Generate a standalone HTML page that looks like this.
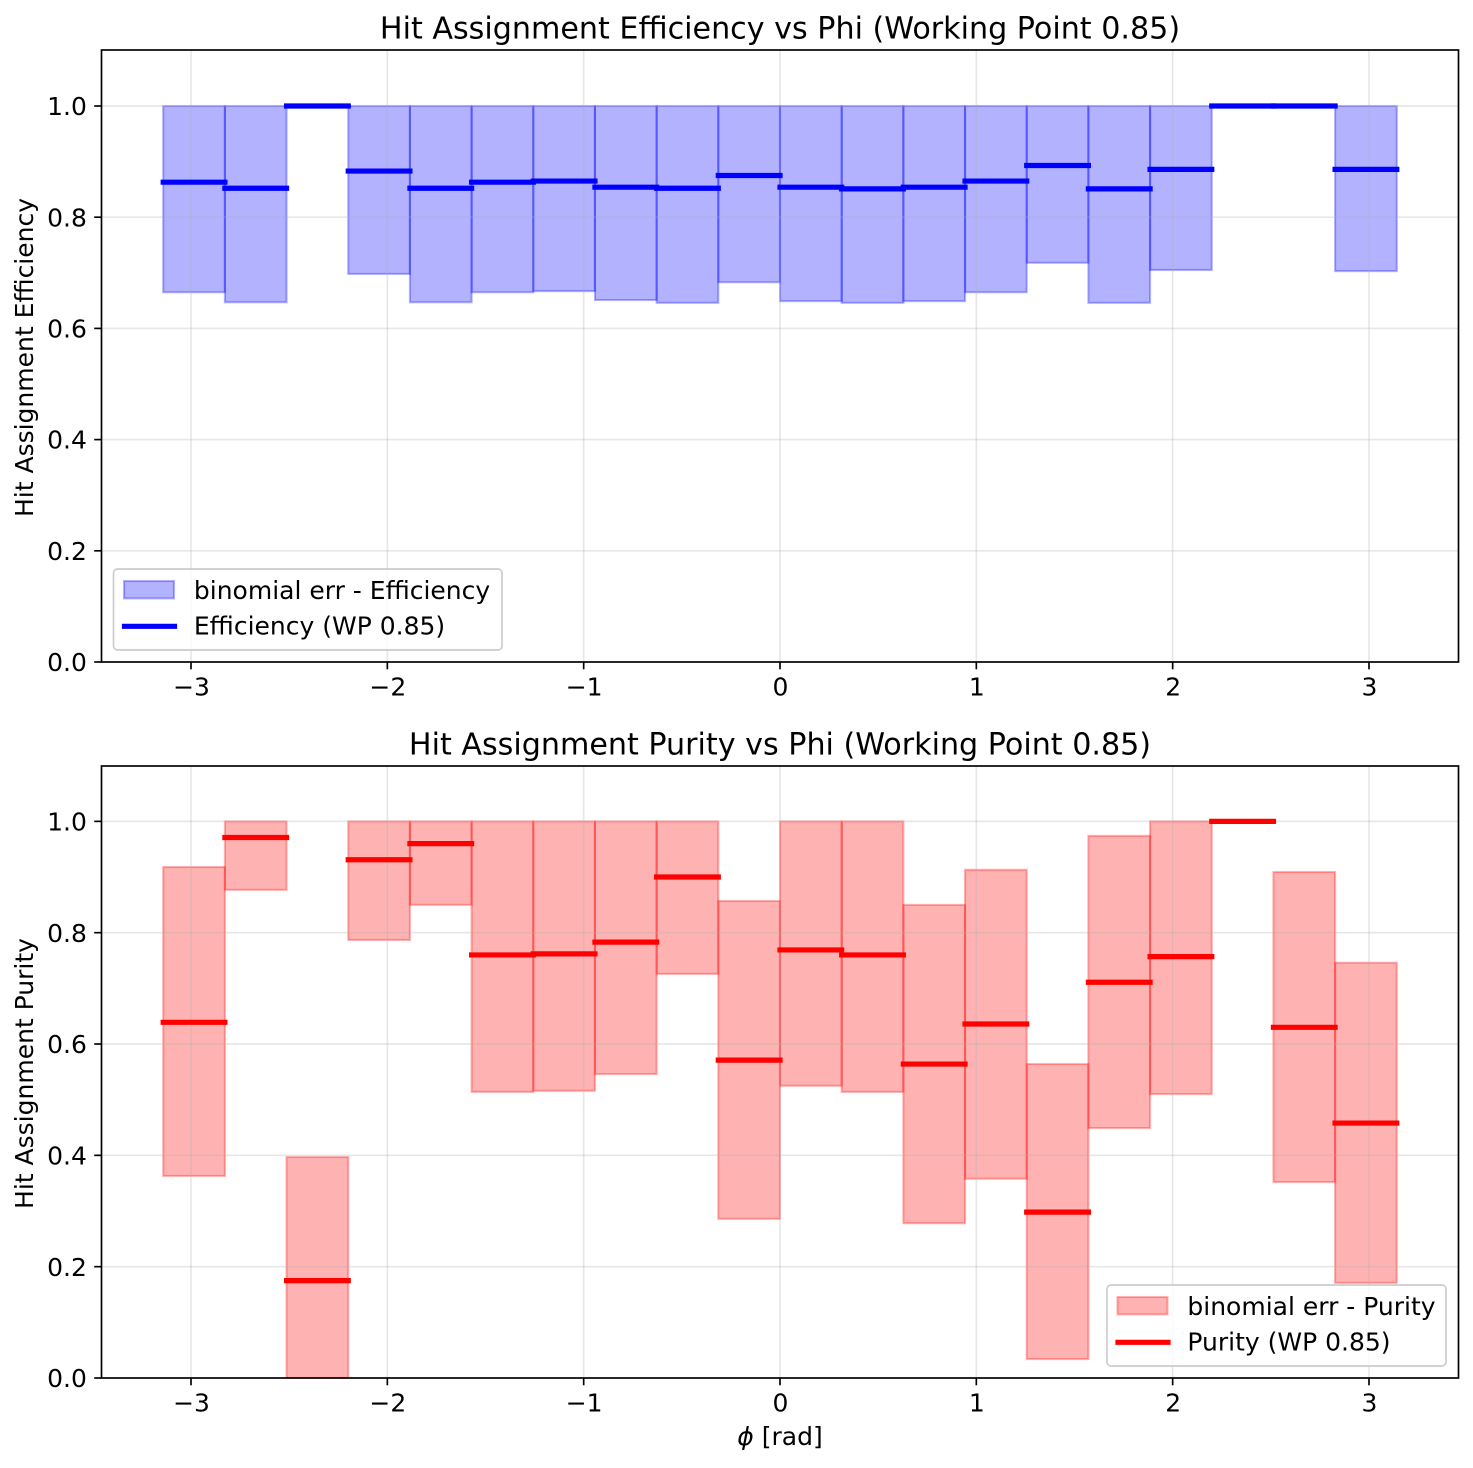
<!DOCTYPE html>
<html>
<head>
<meta charset="utf-8">
<title>Hit Assignment Efficiency and Purity vs Phi</title>
<style>
html,body{margin:0;padding:0;background:#fff;}
svg{display:block;}
text{font-family:"DejaVu Sans","Liberation Sans",sans-serif;fill:#000;}
</style>
</head>
<body>
<svg id="figure" xmlns="http://www.w3.org/2000/svg" width="1473" height="1468" viewBox="0 0 1473 1468"></svg>
<script>
const phiEdges = [-3.1416,-2.8274,-2.5133,-2.1991,-1.885,-1.5708,-1.2566,-0.9425,-0.6283,-0.3142,0,0.3142,0.6283,0.9425,1.2566,1.5708,1.885,2.1991,2.5133,2.8274,3.1416];
const xTicks = [-3,-2,-1,0,1,2,3];
const xTickLabels = ['\u22123','\u22122','\u22121','0','1','2','3'];
const yTicks = [0,0.2,0.4,0.6,0.8,1.0];
const yTickLabels = ['0.0','0.2','0.4','0.6','0.8','1.0'];

const efficiencyValues = [0.863,0.852,1.0,0.883,0.852,0.863,0.865,0.854,0.852,0.875,0.854,0.851,0.854,0.865,0.893,0.851,0.886,1.0,1.0,0.886];
const efficiencyLow = [0.665,0.647,1.0,0.698,0.647,0.665,0.667,0.651,0.646,0.683,0.649,0.646,0.649,0.665,0.718,0.646,0.705,1.0,1.0,0.703];
const efficiencyHigh = [1,1,1,1,1,1,1,1,1,1,1,1,1,1,1,1,1,1,1,1];

const purityValues = [0.639,0.971,0.175,0.931,0.96,0.76,0.762,0.783,0.90,0.571,0.769,0.76,0.564,0.636,0.298,0.711,0.757,1.0,0.63,0.458];
const purityLow = [0.363,0.877,0,0.787,0.85,0.514,0.516,0.546,0.726,0.286,0.525,0.514,0.278,0.358,0.034,0.449,0.51,1.0,0.352,0.171];
const purityHigh = [0.918,1,0.397,1,1,1,1,1,1,0.857,1,1,0.85,0.913,0.564,0.974,1,1.0,0.909,0.746];

const PX = 150/72;
const svg = document.getElementById('figure');
const NS = 'http://www.w3.org/2000/svg';
const xLeft = 101.5, xRight = 1458.5, xCenter = 780, xScaleFactor = 196.33;
const labelSize = 25, titleSize = 30.15, lineWidth = 2.5 * PX;
function xScale(v){ return xCenter + v * xScaleFactor; }

function make(parent, tag, attrs, text){
  const el = document.createElementNS(NS, tag);
  for (const k in attrs) el.setAttribute(k, attrs[k]);
  if (text !== undefined) el.textContent = text;
  parent.appendChild(el);
  return el;
}

function drawPanel(cfg){
  const top = cfg.top, bottom = cfg.bottom;
  const yScale = v => bottom + (cfg.scaleTop - bottom) * v / 1.1;
  const g = make(svg, 'g', {});
  
  

  // error bands (below grid)
  phiEdges.slice(0, -1).forEach((edge, i) => {
    const lo = cfg.low[i], hi = cfg.high[i];
    if (hi <= lo) return;
    const x0 = xScale(edge), x1 = xScale(phiEdges[i + 1]);
    const y0 = yScale(hi), y1 = yScale(lo);
    const band = make(g, 'rect', {x: x0, y: y0, width: x1 - x0, height: y1 - y0, fill: cfg.color, 'fill-opacity': 0.3, stroke: cfg.color, 'stroke-opacity': 0.3, 'stroke-width': PX});
    
    
  });

  // grid
  xTicks.forEach(t => {
    const line = make(g, 'line', {x1: xScale(t), x2: xScale(t), y1: top, y2: bottom, stroke: '#b0b0b0', 'stroke-opacity': 0.3, 'stroke-width': 0.8 * PX});
    
    
  });
  yTicks.forEach(t => {
    const line = make(g, 'line', {x1: xLeft, x2: xRight, y1: yScale(t), y2: yScale(t), stroke: '#b0b0b0', 'stroke-opacity': 0.3, 'stroke-width': 0.8 * PX});
    
    
  });

  // step value lines
  phiEdges.slice(0, -1).forEach((edge, i) => {
    const seg = make(g, 'line', {x1: xScale(edge), x2: xScale(phiEdges[i + 1]), y1: yScale(cfg.values[i]), y2: yScale(cfg.values[i]), stroke: cfg.color, 'stroke-width': lineWidth, 'stroke-linecap': 'square'});
    
    
  });

  // spines
  const frame = make(g, 'rect', {x: xLeft, y: top, width: xRight - xLeft, height: bottom - top, fill: 'none', stroke: '#000', 'stroke-width': 0.8 * PX});
  
  

  // ticks
  xTicks.forEach((t, i) => {
    const tick = make(g, 'line', {x1: xScale(t), x2: xScale(t), y1: bottom, y2: bottom + 3.5 * PX, stroke: '#000', 'stroke-width': 0.8 * PX});
    
    
    const label = make(g, 'text', {x: xScale(t) + 0.5, y: bottom + 33.5, 'font-size': labelSize, 'text-anchor': 'middle'}, xTickLabels[i]);
    
    
  });
  yTicks.forEach((t, i) => {
    const tick = make(g, 'line', {x1: xLeft, x2: xLeft - 3.5 * PX, y1: yScale(t), y2: yScale(t), stroke: '#000', 'stroke-width': 0.8 * PX});
    
    
    const label = make(g, 'text', {x: xLeft - 14.6, y: yScale(t) + 9.1, 'font-size': labelSize, 'text-anchor': 'end'}, yTickLabels[i]);
    
    
  });

  // title & y label
  const title = make(g, 'text', {x: xCenter, y: top - 11.7, 'font-size': titleSize, 'text-anchor': 'middle'}, cfg.title);
  
  
  const cy = (top + bottom) / 2 + 1.5;
  const ylab = make(g, 'text', {x: 33, y: cy, 'font-size': labelSize, 'text-anchor': 'middle', transform: 'rotate(-90 33 ' + cy + ')'}, cfg.ylabel);
  
  

  // legend
  const L = cfg.legend;
  const lg = make(g, 'g', {});
  
  
  make(lg, 'rect', {x: L.x, y: L.y, width: L.w, height: 81, rx: 4, ry: 4, fill: '#fff', 'fill-opacity': 0.8, stroke: '#ccc', 'stroke-width': 0.8 * PX});
  const swatch = make(lg, 'rect', {x: L.x + 10.5, y: L.y + 12, width: 50, height: 17.4, fill: cfg.color, 'fill-opacity': 0.3, stroke: cfg.color, 'stroke-opacity': 0.3, 'stroke-width': PX});
  
  
  const t1 = make(lg, 'text', {x: L.x + 80.4, y: L.y + 30, 'font-size': labelSize}, cfg.bandLabel);
  
  
  const ln = make(lg, 'line', {x1: L.x + 11, x2: L.x + 61, y1: L.y + 57.3, y2: L.y + 57.3, stroke: cfg.color, 'stroke-width': lineWidth, 'stroke-linecap': 'square'});
  
  
  const t2 = make(lg, 'text', {x: L.x + 80.4, y: L.y + 65.3, 'font-size': labelSize}, cfg.lineLabel);
  
  
}

drawPanel({key:'efficiency', top:50, scaleTop:50.4, bottom:662, color:'#0000ff', values:efficiencyValues, low:efficiencyLow, high:efficiencyHigh,
  title:'Hit Assignment Efficiency vs Phi (Working Point 0.85)', ylabel:'Hit Assignment Efficiency',
  bandLabel:'binomial err - Efficiency', lineLabel:'Efficiency (WP 0.85)', legend:{x:113.5,y:569,w:388.5}});
drawPanel({key:'purity', top:766, scaleTop:765.7, bottom:1378, color:'#ff0000', values:purityValues, low:purityLow, high:purityHigh,
  title:'Hit Assignment Purity vs Phi (Working Point 0.85)', ylabel:'Hit Assignment Purity',
  bandLabel:'binomial err - Purity', lineLabel:'Purity (WP 0.85)', legend:{x:1107,y:1285,w:339}});

const xTitle = make(svg, 'text', {x: xCenter, y: 1445, 'font-size': labelSize, 'text-anchor': 'middle'});


make(xTitle, 'tspan', {'font-style': 'italic'}, '\u03D5');
make(xTitle, 'tspan', {}, ' [rad]');
</script>
</body>
</html>
